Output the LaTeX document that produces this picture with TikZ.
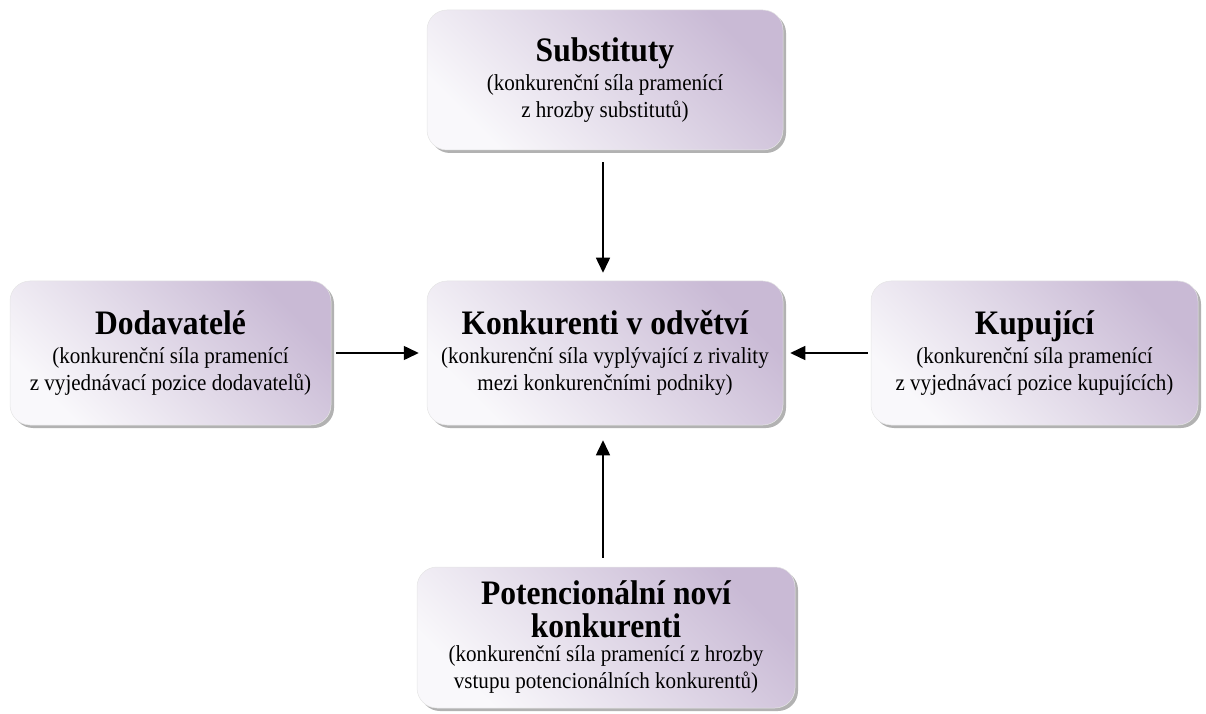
\documentclass[tikz,border=0pt]{standalone}
\usepackage{fontspec}
\setmainfont{Liberation Serif}[FakeStretch=0.92]
\usetikzlibrary{arrows.meta,shadows}
\definecolor{lav}{RGB}{201,186,213}
\definecolor{lavlight}{RGB}{249,248,251}
\newcommand{\tfont}{\fontsize{34.3}{34}\selectfont\bfseries}
\begin{document}
\begin{tikzpicture}[x=1pt,y=1pt,
  box/.style={rounded corners=20pt, draw=black!10, line width=0.5pt,
    shading=axis, top color=lav, bottom color=lavlight, shading angle=-45,
    drop shadow={shadow xshift=3pt, shadow yshift=-3pt, fill=black!60},
    align=center, inner sep=0pt, font=\fontsize{22.9}{27}\selectfont},
  arr/.style={-{Triangle[width=14pt,length=15pt]}, line width=1.5pt}]
\useasboundingbox (0,0) rectangle (1206,713);
\node[box, minimum width=356pt, minimum height=140pt] (sub) at (605,633)
  {{\tfont Substituty}\\[2pt](konkurenční síla pramenící\\z hrozby substitutů)};
\node[box, minimum width=356pt, minimum height=144pt] (konk) at (605,360)
  {{\tfont Konkurenti v odvětví}\\[2pt](konkurenční síla vyplývající z rivality\\mezi konkurenčními podniky)};
\node[box, minimum width=321pt, minimum height=144pt] (dod) at (170.5,360)
  {{\tfont Dodavatelé}\\[2pt](konkurenční síla pramenící\\z vyjednávací pozice dodavatelů)};
\node[box, minimum width=327pt, minimum height=144pt] (kup) at (1034.5,360)
  {{\tfont Kupující}\\[2pt](konkurenční síla pramenící\\z vyjednávací pozice kupujících)};
\node[box, minimum width=378pt, minimum height=141pt] (pot) at (606,75.5)
  {{\tfont Potencionální noví}\\[6pt]{\tfont konkurenti}\\[-3pt](konkurenční síla pramenící z hrozby\\vstupu potencionálních konkurentů)};
\draw[arr] ([xshift=-2pt,yshift=-12pt]sub.south) -- ([xshift=-2pt,yshift=8pt]konk.north);
\draw[arr] ([xshift=5pt]dod.east) -- ([xshift=-8pt]konk.west);
\draw[arr] ([xshift=-3pt]kup.west) -- ([xshift=7pt]konk.east);
\draw[arr] ([xshift=-3pt,yshift=9pt]pot.north) -- ([xshift=-2pt,yshift=-15pt]konk.south);
\end{tikzpicture}
\end{document}
